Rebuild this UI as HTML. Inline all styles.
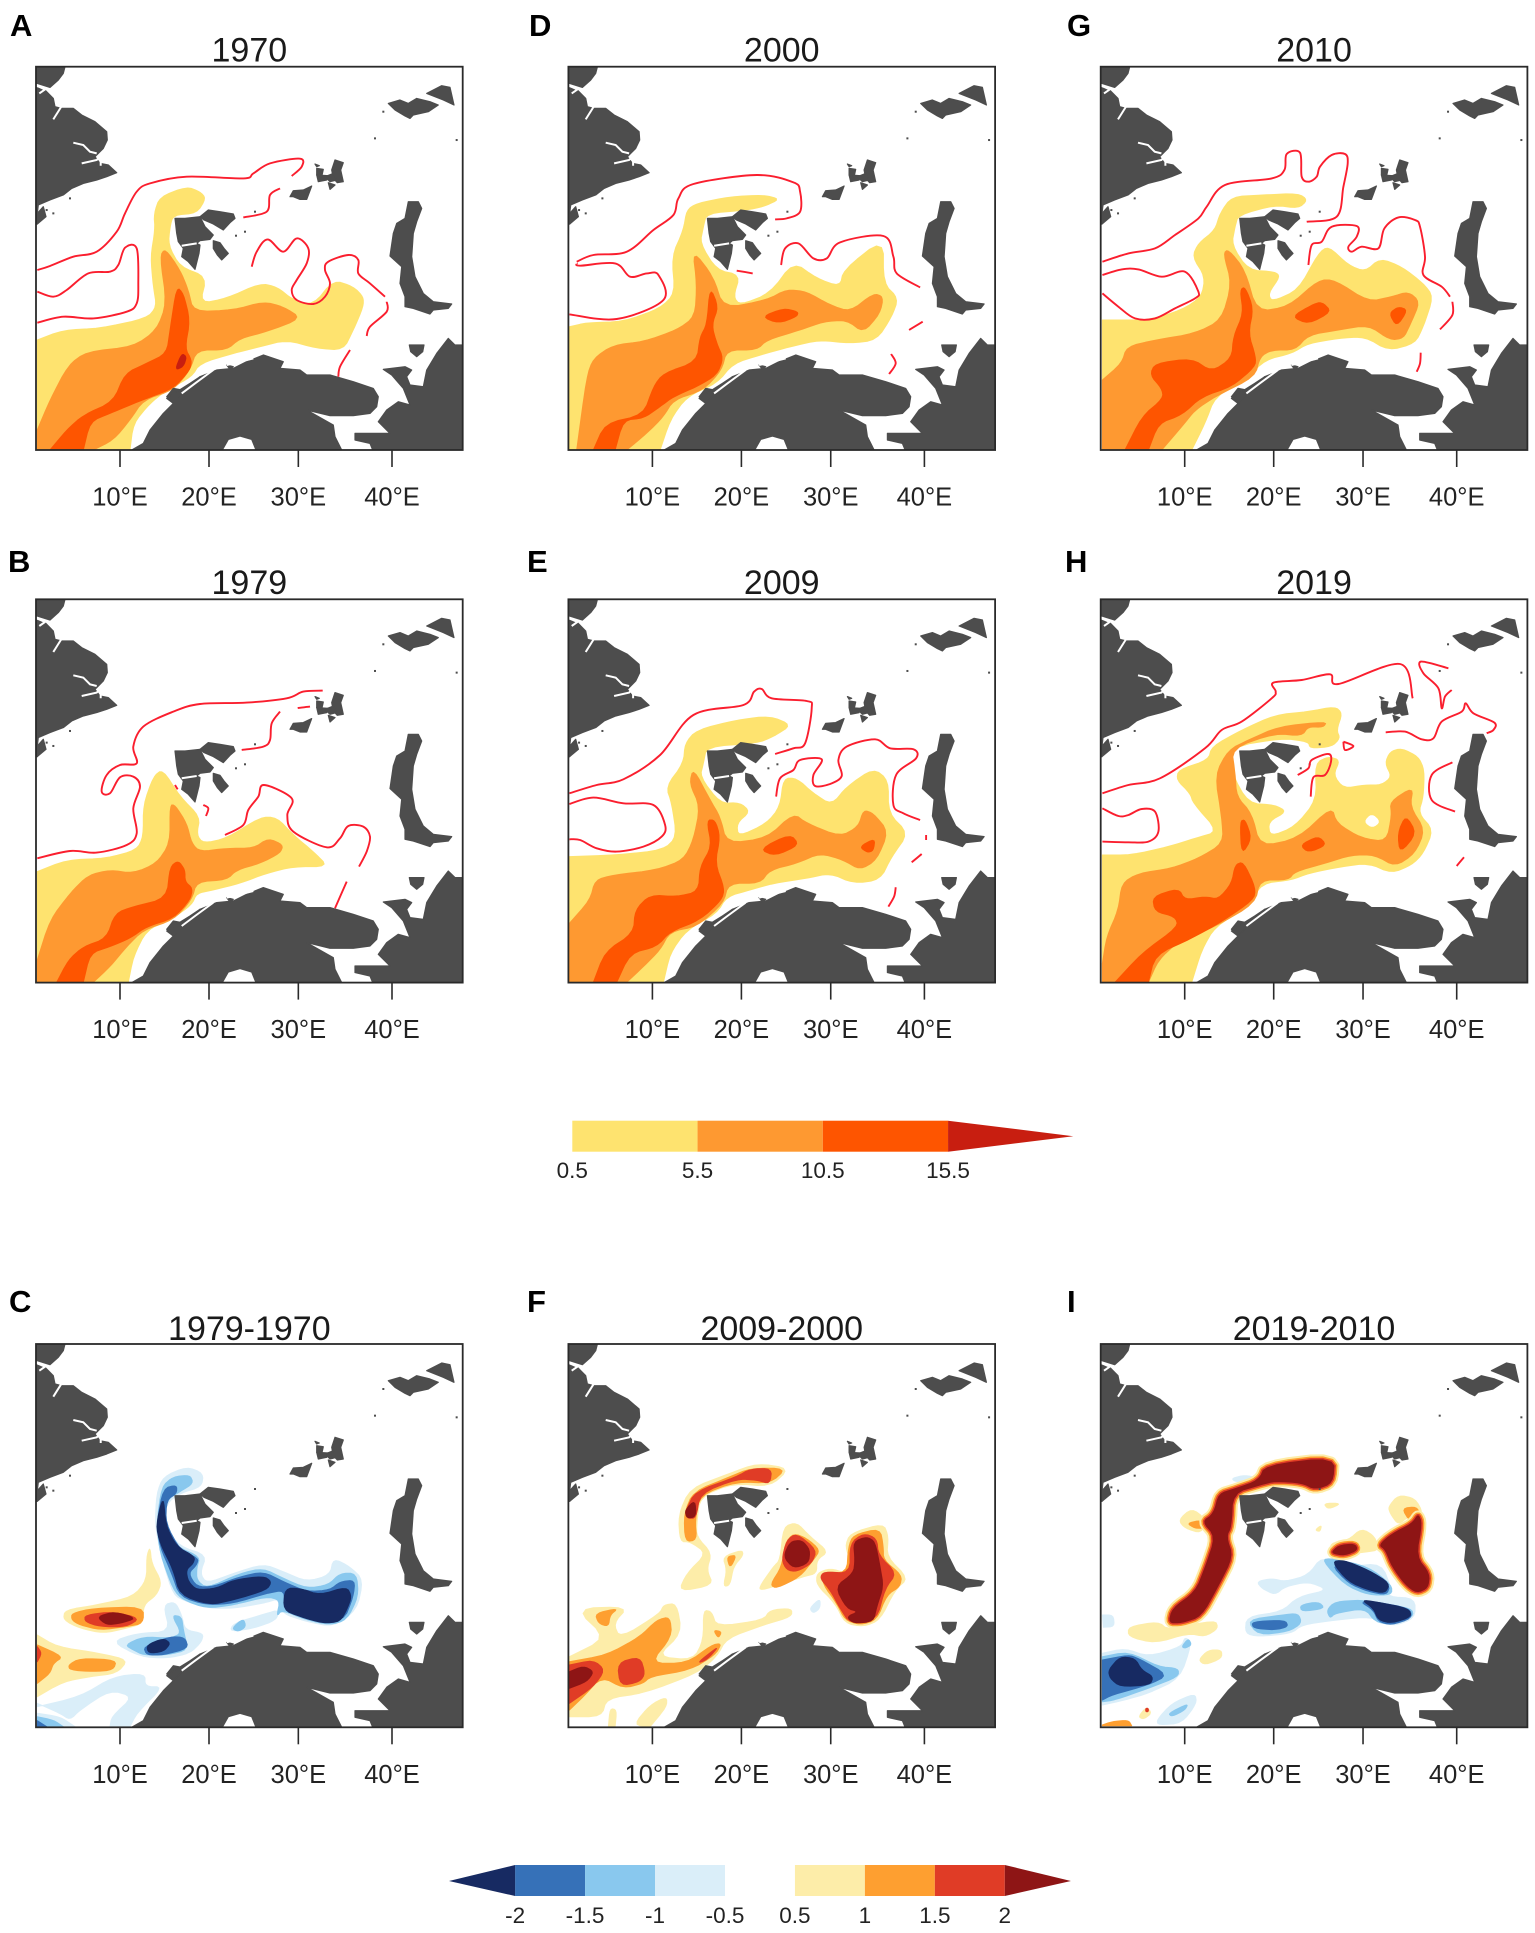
<!DOCTYPE html>
<html lang="en">
<head>
<meta charset="utf-8">
<title>Contour map panels 1970-2019</title>
<style>
html,body{margin:0;padding:0;background:#fff}
svg{display:block;filter:blur(0.35px)}
text{font-family:"Liberation Sans",Arial,sans-serif}
</style>
</head>
<body>
<svg id="fig" xmlns="http://www.w3.org/2000/svg" width="1535" height="1933" viewBox="0 0 1535 1933"></svg>
<script>
/* ---- map plane units: x 0-1280, y 0-1150 with per-panel origin ---- */
const lonTicks=[10,20,30,40];
const lonTickLabels=["10°E","20°E","30°E","40°E"];
const lonProjected=[252,519,787,1068];

const seqLevels=[0.5,5.5,10.5,15.5];
const seqLabels=["0.5","5.5","10.5","15.5"];
const seqOverflow=20.5;
const divLevels=[-2,-1.5,-1,-0.5,0.5,1,1.5,2];
const divLabels=["-2","-1.5","-1","-0.5","0.5","1","1.5","2"];

/* land mask (origin 108,200) */
const landA=[108,200,195,200,190,220,175,240,150,262,112,250,108,250];
const landB=[108,262,135,270,160,295,165,320,185,325,220,325,245,345,285,365,320,395,322,420,310,445,300,455,285,470,300,490,325,495,350,518,320,530,290,540,250,550,215,565,190,585,150,600,115,615,112,640,130,620,138,650,112,672,108,672];
const landC=[525,655,555,655,600,650,615,680,640,705,630,718,600,722,590,730,600,735,597,760,585,808,565,785,545,770,550,745,535,725,530,700];
const landE=[600,650,625,630,660,635,700,642,705,655,690,668,670,690,640,672,612,660];
const landF=[640,722,660,728,672,745,685,760,665,780,652,765,640,745];
const landG=[870,590,880,572,910,570,935,558,920,598,900,598,880,590];
const landH=[1005,480,1030,488,1022,510,1030,545,1012,548,1000,535,995,510];
const landI=[950,525,985,527,980,540,955,545];
const landJ=[985,548,1005,555,990,568];
const landK=[945,492,958,497,950,500];
const landL=[950,505,970,508,965,530,950,525];
const landW=[975,530,1000,520,1010,540,990,545];
const landM=[1165,310,1200,300,1225,310,1250,295,1290,305,1315,315,1285,335,1240,345,1230,355,1215,348,1185,330];
const landN=[1280,280,1325,257,1350,262,1362,315,1330,300];
const landO=[1225,605,1255,605,1265,625,1250,665,1240,700,1235,770,1245,830,1270,880,1300,905,1355,912,1345,925,1300,930,1290,942,1240,925,1215,920,1215,890,1200,850,1205,800,1170,768,1180,700,1190,670,1215,655];
const landP=[1228,1035,1272,1035,1268,1055,1250,1070,1232,1055];
const landQ=[395,1350,430,1330,450,1290,490,1240,520,1210,570,1160,600,1130,650,1110,700,1105,740,1085,790,1065,850,1085,840,1105,900,1110,920,1125,990,1125,1060,1145,1120,1165,1135,1190,1130,1220,1110,1240,1060,1247,990,1247,920,1230,1000,1275,1005,1310,1025,1350,768,1350,755,1318,720,1308,685,1318,667,1350];
const landR=[1065,1300,1110,1300,1170,1300,1135,1265,1160,1230,1195,1205,1230,1215,1210,1165,1175,1125,1150,1108,1215,1100,1235,1110,1220,1130,1230,1155,1270,1160,1280,1110,1310,1060,1345,1015,1365,1035,1388,1035,1388,1350,1118,1350,1110,1330,1065,1320];
const landS=[500,1190,520,1165,545,1170,535,1185,510,1195];
const landT=[680,1095,700,1100,690,1108];
const landU=[112,672,108,672,108,620,112,620];
const landV=[520,1210,500,1195,530,1175,570,1150,600,1130,570,1160];
const landParts=[landA,landB,landC,landE,landF,landG,landH,landI,landJ,landK,landL,landW,landM,landN,landO,landP,landQ,landR,landS,landT,landU,landV];
const inletA=[220,428,250,435,270,455,290,460];
const inletB=[245,490,290,480,300,470];
const inletC=[302,470,302,497];
const inletD=[160,358,185,318];
const inletE=[112,258,135,268,118,280];
const inletF=[545,1180,585,1150,640,1110];
const inletG=[680,1095,760,1075];
const inletH=[545,737,590,730];
const inletParts=[inletA,inletB,inletC,inletD,inletE,inletF,inletG,inletH];
const landDots=[1125,415,1370,420,1150,335,735,695,708,707,210,595,140,630,160,640,765,635];

/* 1970 (A) */
const low1970=[112,1020,190,990,300,985,440,955,470,920,460,860,452,770,465,690,462,640,480,590,560,560,600,575,618,595,590,640,520,645,510,680,505,735,540,800,620,830,600,910,680,895,780,850,830,860,880,900,940,915,1000,840,1060,860,1090,890,1090,920,1060,990,1030,1050,950,1045,860,1020,780,1040,700,1060,600,1090,575,1130,500,1170,450,1210,400,1270,390,1350,112,1350];
const mid1970=[112,1290,150,1200,205,1095,260,1055,400,1040,470,990,500,910,480,770,495,745,540,810,565,870,580,935,700,930,790,905,850,920,905,955,800,995,720,1015,680,1050,590,1050,570,1110,520,1170,430,1200,390,1260,340,1320,280,1350,112,1350];
const high1970=[150,1350,200,1290,250,1245,340,1205,375,1120,440,1090,500,1060,510,990,530,860,550,880,570,960,555,1045,575,1080,570,1110,520,1165,440,1195,390,1215,330,1240,270,1265,250,1350];
const top1970=[525,1110,545,1060,560,1070,550,1100];
const edge1970a=[112,810,150,798,220,770,290,755,350,695,375,640,410,575,450,550,560,530,730,535,760,520,810,490,900,476,905,500,875,528];
const edge1970b=[112,875,160,890,200,870,265,820,330,815,355,795,375,743,410,745,415,850,410,910,380,935,280,955,190,950,112,968];
const edge1970c=[840,565,810,585,800,635,730,652];
const edge1970d=[755,800,770,755,803,718,850,755,890,715,925,745,920,790,890,840,875,870,890,900,940,912,975,890,990,850,975,810,985,785,1045,765,1075,780,1075,820,1110,850,1155,890];
const edge1970e=[1160,905,1160,935,1110,980,1100,1008];
const edge1970f=[1050,1050,1020,1100,1015,1130];

/* 2000 (D) */
const low2000=[118,980,170,968,280,965,390,925,435,880,425,770,460,690,470,630,500,610,600,590,700,585,750,597,700,620,650,630,530,640,520,680,510,730,560,810,630,825,610,890,630,915,720,880,790,785,860,835,930,860,940,810,1060,715,1060,850,1105,895,1085,950,1040,1020,960,1030,870,1020,780,1040,690,1065,610,1090,560,1150,470,1190,420,1260,390,1350,118,1350];
const mid2000=[140,1350,170,1130,190,1075,250,1035,340,1025,440,990,495,950,500,850,488,750,550,830,580,925,710,900,770,868,830,875,900,915,960,935,1030,880,1060,890,1050,940,1000,998,950,960,880,965,810,990,710,1020,680,1050,590,1050,575,1110,520,1170,430,1200,400,1250,350,1300,290,1350];
const high2000=[190,1350,225,1270,340,1245,370,1160,400,1120,500,1085,510,1010,530,975,540,860,565,920,545,975,560,1030,580,1075,560,1125,500,1160,430,1190,390,1220,340,1255,280,1260,255,1350];
const spot2000=[695,950,760,925,805,935,800,950,745,970];
const edge2000a=[140,785,190,765,290,755,370,690,430,645,445,595,490,552,680,525,790,547,810,575,810,635,770,655,735,658];
const edge2000b=[118,943,260,957,400,900,385,825,350,820,300,830,255,790,150,797,140,790];
const edge2000c=[620,812,668,820];
const edge2000d=[753,795,765,745,805,730,850,775,890,775,930,727,1060,708,1090,770,1100,820,1170,862];
const edge2000e=[1137,990,1178,965];
const edge2000f=[1083,1062,1097,1090,1077,1122];

/* 2010 (G) */
const low2010=[262,960,320,960,400,960,500,930,560,890,570,830,532,770,550,730,600,690,615,640,650,590,740,585,850,580,878,600,850,625,780,615,670,645,660,680,650,735,700,810,780,815,795,830,760,880,770,905,850,870,910,760,940,738,1000,795,1050,815,1095,775,1160,800,1225,850,1255,890,1225,980,1200,1030,1120,1052,1050,1010,970,1015,880,1030,830,1060,750,1080,700,1130,600,1190,570,1270,530,1350,262,1350];
const mid2010=[262,1140,320,1090,335,1040,420,1020,540,1000,620,960,650,850,625,760,640,748,690,810,725,935,820,920,910,840,960,840,1060,905,1130,890,1180,875,1215,905,1185,975,1165,1015,1125,1020,1060,975,970,990,880,1005,840,1050,770,1050,735,1070,720,1130,600,1190,540,1230,500,1280,440,1350,262,1350];
const high2010=[330,1350,380,1250,445,1195,440,1165,405,1125,420,1090,530,1075,590,1115,650,1075,655,1010,685,940,675,870,690,860,715,925,700,1000,722,1070,720,1100,650,1160,560,1190,500,1245,430,1270,400,1350];
const spot2010a=[830,950,890,915,920,905,950,935,880,972];
const spot2010b=[1122,940,1150,920,1178,930,1145,980];
const edge2010a=[262,785,340,760,420,745,480,705,550,655,575,620,630,555,770,535,808,510,815,462,855,458,860,530,880,545,905,530,915,500,950,465,990,462,998,490,985,560,965,650,875,665];
const edge2010b=[262,825,320,808,370,808,440,830,510,815,550,875,540,895,480,925,420,955,360,955,310,920,262,880];
const edge2010c=[880,795,890,735,920,725,950,680,1025,678,1025,710,1000,740,1010,755,1040,740,1090,745,1108,685,1150,652,1200,660,1215,680,1230,770,1225,825,1280,860,1305,890];
const edge2010d=[1312,905,1312,945,1275,988];
const edge2010e=[1217,1058,1215,1090,1205,1115];

/* 1979 (B) */
const low1979=[112,1025,200,990,320,985,410,960,430,920,430,825,460,740,488,718,540,800,600,860,590,915,610,940,680,925,780,862,830,862,880,915,940,965,985,1010,880,1010,800,1030,720,1060,640,1080,590,1090,575,1125,510,1170,440,1200,400,1280,385,1357,112,1357];
const mid1979=[112,1290,150,1170,210,1090,265,1035,330,1020,400,1030,470,1000,510,940,510,825,525,825,560,880,575,940,600,965,680,955,760,955,805,925,850,945,840,970,780,1000,710,1020,680,1050,590,1055,575,1110,520,1170,430,1200,380,1250,330,1310,280,1357,112,1357];
const high1979=[170,1357,205,1290,250,1250,320,1225,345,1150,400,1130,500,1105,510,1010,535,992,555,1020,555,1055,578,1075,570,1110,520,1165,440,1190,390,1225,330,1250,270,1270,250,1357];
const edge1979a=[112,985,210,963,290,968,380,945,410,910,400,835,420,770,400,740,360,742,330,790,305,785,320,735,360,705,410,700,400,650,430,590,520,545,600,522,740,518,860,505,910,485,968,482];
const edge1979b=[893,534,930,530];
const edge1979c=[840,545,815,580,810,630,790,650,725,660];
const edge1979d=[610,825,625,835,618,858];
const edge1979e=[525,765,533,778];
const edge1979f=[675,915,730,885,745,840,775,800,792,765,875,805,862,855,880,905,980,952,1020,925,1045,888,1090,890,1110,920,1100,965,1077,1010];
const edge1979g=[1040,1055,1005,1135];

/* 2009 (E) */
const low2009=[118,980,260,975,400,960,440,920,425,820,408,770,460,700,465,640,500,600,620,570,720,558,785,585,730,620,680,640,530,650,520,700,510,740,570,820,630,818,660,845,620,880,625,920,710,880,750,830,760,745,800,745,850,790,905,825,950,770,1030,715,1075,750,1075,850,1135,910,1085,980,1050,1050,970,1060,900,1030,830,1045,730,1060,660,1080,590,1100,560,1150,470,1200,420,1270,400,1357,118,1357];
const mid2009=[118,1180,180,1110,195,1050,250,1035,380,1020,460,990,490,930,510,830,478,760,490,715,540,810,570,860,590,940,710,925,790,850,830,880,930,920,985,890,1000,840,1030,850,1075,905,1040,990,990,1020,940,990,870,970,800,1000,720,1020,690,1060,595,1060,580,1120,500,1190,420,1205,390,1260,340,1310,290,1357,118,1357];
const high2009=[190,1357,225,1265,310,1210,315,1140,360,1095,440,1100,505,1085,510,1010,545,950,530,870,555,870,570,920,555,1000,583,1075,575,1110,510,1170,420,1205,380,1250,300,1270,260,1357];
const spot2009a=[688,958,780,912,808,945,735,978];
const spot2009b=[988,950,1035,925,1030,962,1012,968];
const edge2009a=[118,790,200,765,280,748,390,675,490,555,640,525,672,485,695,477,725,505,830,513,845,535,825,640,790,655,735,672];
const edge2009b=[118,822,190,803,280,820,370,825,405,885,395,920,340,950,260,965,200,955,150,930,118,928];
const edge2009c=[738,800,750,745,790,720,810,690,875,688,850,735,855,768,900,762,935,738,925,690,950,650,1035,628,1080,655,1150,658,1158,685,1098,735,1090,825,1120,850,1170,870];
const edge2009d=[1188,915,1188,930];
const edge2009e=[1145,997,1175,972];
const edge2009f=[1097,1072,1092,1100,1075,1130];

/* 2019 (H) */
const low2019=[262,975,350,975,460,950,540,925,610,905,535,820,525,790,485,750,490,720,580,690,590,650,680,600,780,555,880,545,960,530,982,550,965,600,975,625,950,650,885,655,880,635,800,625,650,650,650,730,700,820,780,825,815,845,760,875,765,920,840,890,905,810,900,700,940,680,975,690,955,735,985,775,1050,765,1100,765,1130,740,1110,700,1125,665,1160,655,1210,680,1228,720,1225,800,1210,850,1255,900,1225,970,1190,1005,1130,1030,1060,1000,980,1010,880,1030,830,1050,740,1060,700,1130,600,1190,560,1260,530,1357,262,1357];
const hole2019=[1048,875,1070,852,1095,875,1072,893];
const mid2019=[262,1300,275,1220,310,1140,320,1060,370,1030,470,1015,550,985,625,940,620,860,600,735,640,660,700,630,790,590,935,575,925,592,880,590,860,618,780,610,650,655,660,730,665,800,710,850,735,950,850,925,950,830,965,880,1040,925,1115,935,1130,855,1125,815,1195,770,1185,830,1230,900,1200,970,1140,1010,1080,975,1010,975,930,1000,840,1025,820,1050,735,1050,720,1120,600,1190,490,1235,430,1290,400,1357,262,1357];
const high2019=[300,1357,380,1270,490,1190,480,1160,420,1145,412,1100,490,1075,510,1110,570,1100,610,1108,650,1060,660,1005,685,995,722,1075,715,1110,620,1175,530,1225,420,1275,400,1357];
const spot2019a=[675,875,690,868,710,925,680,975];
const spot2019b=[855,945,910,918,935,945,880,968];
const spot2019c=[1148,910,1172,855,1205,910,1155,970];
const edge2019a=[262,790,340,765,435,745,570,655,620,600,680,575,770,505,782,485,775,458,860,450,945,433,970,462,1155,402,1193,505];
const edge2019b=[1300,415,1218,395,1225,430,1270,475,1280,535,1290,500,1310,480];
const edge2019c=[1112,607,1170,605,1220,628,1255,625,1280,575,1340,545,1352,520,1375,550,1438,578,1435,600,1415,610];
const edge2019d=[1312,697,1250,735,1250,810,1320,845];
const edge2019e=[262,835,310,858,340,855,380,837,420,845,430,905,400,935,340,937,262,935];
const edge2019f=[985,635,1015,648,990,660,985,635];
const edge2019g=[848,735,880,715,890,690,940,672,948,695,930,735,895,742,887,800];
const edge2019h=[1325,1008,1347,982];

/* 1979-1970 (C) */
const diffC_p1=[450,800,455,850,485,905,470,945,430,975,430,1030,380,1045,310,1060,240,1045,190,1020,195,990,290,975,400,950,440,900,440,830];
const diffC_p2=[112,1065,170,1100,300,1120,385,1140,350,1180,270,1190,190,1205,112,1250];
const diffC_o1=[215,1000,280,985,430,980,430,1030,380,1040,300,1050,240,1035,215,1020];
const diffC_r1=[255,1005,340,995,420,1015,380,1040,300,1040,255,1025];
const diffC_d1=[290,1010,345,995,410,1015,360,1030,320,1035];
const diffC_o2=[112,1095,190,1130,160,1150,150,1180,112,1210];
const diffC_o3=[205,1155,240,1135,350,1140,340,1170,280,1175,210,1170];
const diffC_r2=[112,1100,125,1120,112,1145];
const diffC_b1=[465,740,470,640,490,590,560,560,610,580,605,620,540,640,500,670,490,735,540,800,620,825,600,880,620,910,700,880,790,852,850,875,920,905,990,885,1000,835,1050,860,1090,900,1070,990,1000,1040,920,1025,845,1000,840,955,790,970,700,985,630,985,560,965,520,945,490,850];
const diffC_b2=[830,1020,835,990,800,1000,700,1030,690,1055,760,1045];
const diffC_b3=[335,1085,410,1060,510,1055,490,975,525,965,545,1005,555,1050,610,1060,605,1085,570,1120,500,1135,420,1130];
const diffC_b4=[112,1300,180,1310,225,1340,112,1340];
const diffC_b5=[112,1280,240,1250,340,1190,435,1180,435,1220,490,1220,410,1300,390,1340,330,1340,335,1310,400,1250,330,1230,240,1290,210,1320,180,1300,112,1270];
const diffC_m1=[470,730,485,620,520,590,570,585,580,610,540,635,500,660,490,730,530,800,600,830,590,865,590,900,620,925,720,880,790,865,850,895,920,925,985,915,1020,880,1070,880,1075,950,1040,1020,990,1035,920,1020,845,990,830,1010,840,960,800,950,700,975,620,985,550,960,520,930,480,820];
const diffC_m2=[375,1095,430,1070,510,1075,545,1060,515,1005,545,1010,550,1050,565,1110,500,1125,430,1125,400,1110];
const diffC_m3=[695,1045,730,1015,738,1040,715,1055];
const diffC_m4=[112,1310,160,1320,190,1340,112,1340];
const diffC_s1=[470,730,490,625,530,615,530,640,500,660,497,730,540,810,595,835,590,855,565,880,590,920,640,920,720,890,790,875,850,905,920,935,990,930,1020,905,1065,900,1060,950,1030,1025,930,1015,850,990,855,930,800,940,700,970,620,975,540,950,515,880,480,800];
const diffC_s2=[430,1100,510,1070,555,1072,565,1105,490,1125,440,1125];
const diffC_s3=[112,1322,140,1340,112,1340];
const diffC_n1=[468,735,490,645,497,735,530,800,585,830,580,850,558,870,565,905,590,930,650,925,700,900,790,888,815,905,800,930,700,960,630,975,540,945,520,870,480,790];
const diffC_n2=[855,925,900,925,960,945,1040,920,1055,950,1040,990,1020,1025,970,1030,900,1010,850,990];
const diffC_n3=[440,1095,490,1075,512,1090,490,1115,445,1120];

/* 2009-2000 (F) */
const diffF_p1=[445,705,480,625,600,580,680,550,780,565,720,620,610,610,510,650,500,730,500,770,545,820,530,870,550,915,445,935,470,880,530,820,480,785,450,785];
const diffF_p2=[578,830,635,810,640,825,610,860,600,915,580,920,590,870];
const diffF_p3=[760,740,800,727,840,770,895,815,860,840,860,880,820,890,700,930,685,925,730,860,750,840];
const diffF_p4=[945,800,960,760,1060,730,1075,770,1070,830,1135,895,1095,930,1050,1020,1000,1040,945,1030,915,970,860,915,860,880,900,865,950,880,965,850];
const diffF_p5=[118,1310,118,1130,230,1075,135,985,295,980,250,1030,270,1075,390,1000,400,975,440,970,455,1060,380,1130,490,1140,520,1080,520,990,545,995,560,1040,700,1020,720,990,785,985,785,1010,700,1035,590,1075,560,1130,500,1180,340,1240,230,1255,215,1310];
const diffF_p6=[310,1335,360,1275,410,1250,410,1280,360,1340];
const diffF_p7=[235,1340,240,1285,260,1290,255,1340];
const diffF_o1=[462,700,490,635,600,590,660,565,770,565,720,610,620,605,510,645,495,720,500,780,465,785];
const diffF_o2=[590,830,620,825,600,865];
const diffF_o3=[720,915,755,860,765,790,790,760,830,775,870,810,850,840,810,890,740,925];
const diffF_o4=[955,800,970,765,1050,745,1060,800,1060,840,1115,885,1110,920,1070,945,1040,1020,990,1035,945,1020,920,970,880,915,875,875,950,880];
const diffF_o5=[118,1145,230,1125,330,1070,380,1020,420,1010,425,1070,360,1150,470,1150,545,1095,575,1090,555,1125,480,1170,360,1190,340,1210,280,1225,215,1190,160,1250,118,1290];
const diffF_o6=[195,1000,265,985,240,1005,235,1040,205,1030];
const diffF_o7=[550,1050,575,1055,565,1075];
const diffF_r1=[468,690,495,635,620,590,660,567,725,565,720,612,680,600,620,597,510,640,498,715,470,715];
const diffF_r2=[755,840,770,780,800,760,860,810,845,850,800,875,770,870];
const diffF_r3=[960,790,1000,760,1040,775,1045,825,1100,880,1065,925,1040,1020,960,1030,930,985,900,930,870,895,880,875,960,880];
const diffF_r4=[118,1155,190,1140,225,1170,190,1220,118,1270];
const diffF_r5=[262,1148,330,1130,345,1180,330,1205,270,1218];
const diffF_r6=[500,1150,570,1095,530,1140];
const diffF_d1=[465,690,495,660,498,710,470,715];
const diffF_d2=[760,830,780,785,815,780,840,810,835,850,790,865];
const diffF_d3=[970,785,1010,770,1035,785,1050,860,1060,920,1040,980,1030,1025,970,1030,950,1010,985,995,950,985,915,920,970,880,975,840];
const diffF_d4=[118,1175,160,1158,192,1175,170,1205,118,1225];
const diffF_b1=[838,985,870,955,870,985,850,1000];

/* 2019-2010 (I) */
const diffI_d1=[460,1030,470,985,540,935,570,860,600,770,560,725,595,700,610,640,660,625,730,600,750,555,960,530,955,610,900,630,860,610,780,605,740,615,655,640,650,740,635,770,655,830,610,920,560,1010,500,1030];
const diffI_d2=[1090,795,1130,760,1190,730,1210,700,1222,730,1205,830,1245,880,1240,925,1205,940,1170,915,1130,860,1110,810];
const diffI_d3=[945,820,970,795,1020,790,1030,810,990,828];
const diffI_p1=[490,720,530,685,570,715,560,760,510,745];
const diffI_p2=[340,1040,430,1025,460,1050,600,1020,610,1045,570,1070,520,1060,420,1090,340,1070];
const diffI_p3=[925,670,980,670,940,688];
const diffI_p4=[900,750,920,735,915,755];
const diffI_p5=[1120,680,1150,645,1200,655,1225,700,1180,710,1150,735,1125,700];
const diffI_p6=[945,790,1000,780,1040,745,1080,770,1090,810,1060,815,1020,820,950,820];
const diffI_p7=[550,1140,580,1110,620,1110,620,1135,570,1155];
const diffI_p8=[370,1310,395,1280,410,1300,385,1318];
const diffI_o1=[515,730,560,720,570,745,540,745];
const diffI_o2=[1160,685,1205,680,1215,705,1185,725];
const diffI_o3=[262,1335,290,1325,340,1320,350,1337,262,1337];
const diffI_r1=[392,1285,400,1285,400,1295,392,1295];
const diffI_b1=[725,905,770,895,810,905,880,885,920,830,1000,860,1100,850,1130,930,1120,950,1200,955,1200,1015,1130,1040,1070,1010,960,1020,860,1035,830,1060,730,1070,690,1060,695,1010,800,995,850,950,940,930,880,905,810,920,780,945,740,925];
const diffI_b2=[650,595,690,585,730,595,700,605,660,605];
const diffI_b3=[262,1120,330,1105,400,1130,500,1100,510,1070,530,1090,495,1195,400,1240,330,1260,262,1275];
const diffI_b4=[425,1320,470,1270,540,1240,545,1270,500,1330,430,1335];
const diffI_b5=[262,1005,295,1005,298,1040,265,1042];
const diffI_m1=[855,975,910,965,930,985,860,995];
const diffI_m2=[935,990,960,965,1040,960,1090,970,1190,985,1195,1010,1130,1035,1080,1025,1050,985,960,1000,945,1015];
const diffI_m3=[920,840,950,835,1060,860,1130,915,1130,945,1060,945,990,915];
const diffI_m4=[695,1020,800,1005,850,1000,860,1030,820,1055,730,1065];
const diffI_m5=[262,1130,340,1115,430,1160,490,1165,490,1190,400,1225,300,1260,262,1265];
const diffI_m6=[460,1300,520,1270,510,1290,470,1310];
const diffI_m7=[500,1100,520,1075,530,1095,510,1105];
const diffI_s1=[710,1025,810,1020,820,1040,780,1050,715,1045];
const diffI_s2=[262,1140,340,1125,370,1135,460,1185,400,1215,290,1245,262,1260];
const diffI_s3=[945,850,1050,870,1125,915,1115,945,1060,935,1000,910];
const diffI_s4=[1035,965,1080,965,1185,985,1190,1015,1130,1035,1090,1025,1075,990];
const diffI_n1=[950,845,985,840,1060,870,1125,910,1110,940,1060,930,1000,905];
const diffI_n2=[1040,960,1080,965,1180,985,1190,1010,1130,1030,1090,1020,1075,985];
const diffI_n3=[280,1170,315,1130,360,1135,380,1170,415,1190,405,1215,315,1220,285,1195];

const palette={low:"#FEE36F",mid:"#FE9931",high:"#FE5500",top:"#C81E10",white:"#FFFFFF",
 p:"#FDEDA9",o:"#FE9F30",r:"#E03C26",d:"#8E1515",b:"#DAEEF9",m:"#89C8EE",s:"#3671B8",n:"#172A62"};

/* layout */
const columnLeft=[36,568.4,1100.7];
const rowTop=[66.7,599.3,1344];
const frameW=426.7, frameH=383.3, unit=1/3;
const columnOrigin=[108,115,257];
const rowOrigin=[200,208,192];

const panels=[
 {letter:"A",title:"1970",c:0,r:0,lx:10,ly:36,fills:[["low",low1970],["mid",mid1970],["high",high1970],["top",top1970]],edges:[edge1970a,edge1970b,edge1970c,edge1970d,edge1970e,edge1970f]},
 {letter:"B",title:"1979",c:0,r:1,lx:8,ly:572,fills:[["low",low1979],["mid",mid1979],["high",high1979]],edges:[edge1979a,edge1979b,edge1979c,edge1979d,edge1979e,edge1979f,edge1979g]},
 {letter:"C",title:"1979-1970",c:0,r:2,lx:9,ly:1312,fills:[["p",diffC_p1],["p",diffC_p2],["o",diffC_o1],["r",diffC_r1],["d",diffC_d1],["o",diffC_o2],["o",diffC_o3],["r",diffC_r2],["b",diffC_b1],["b",diffC_b2],["b",diffC_b3],["b",diffC_b5],["b",diffC_b4],["m",diffC_m1],["m",diffC_m2],["m",diffC_m3],["m",diffC_m4],["s",diffC_s1],["s",diffC_s2],["s",diffC_s3],["n",diffC_n1],["n",diffC_n2],["n",diffC_n3]],edges:[]},
 {letter:"D",title:"2000",c:1,r:0,lx:529,ly:36,fills:[["low",low2000],["mid",mid2000],["high",high2000],["high",spot2000]],edges:[edge2000a,edge2000b,edge2000c,edge2000d,edge2000e,edge2000f]},
 {letter:"E",title:"2009",c:1,r:1,lx:527,ly:572,fills:[["low",low2009],["mid",mid2009],["high",high2009],["high",spot2009a],["high",spot2009b]],edges:[edge2009a,edge2009b,edge2009c,edge2009d,edge2009e,edge2009f]},
 {letter:"F",title:"2009-2000",c:1,r:2,lx:527,ly:1312,fills:[["p",diffF_p5],["p",diffF_p6],["p",diffF_p7],["p",diffF_p1],["p",diffF_p2],["p",diffF_p3],["p",diffF_p4],["o",diffF_o1],["o",diffF_o2],["o",diffF_o3],["o",diffF_o4],["o",diffF_o5],["o",diffF_o6],["o",diffF_o7],["r",diffF_r1],["r",diffF_r2],["r",diffF_r3],["r",diffF_r4],["r",diffF_r5],["r",diffF_r6],["d",diffF_d1],["d",diffF_d2],["d",diffF_d3],["d",diffF_d4],["b",diffF_b1]],edges:[]},
 {letter:"G",title:"2010",c:2,r:0,lx:1067,ly:36,fills:[["low",low2010],["mid",mid2010],["high",high2010],["high",spot2010a],["high",spot2010b]],edges:[edge2010a,edge2010b,edge2010c,edge2010d,edge2010e]},
 {letter:"H",title:"2019",c:2,r:1,lx:1065,ly:572,fills:[["low",low2019],["white",hole2019],["mid",mid2019],["high",high2019],["high",spot2019a],["high",spot2019b],["high",spot2019c]],edges:[edge2019a,edge2019b,edge2019c,edge2019d,edge2019e,edge2019f,edge2019g,edge2019h]},
 {letter:"I",title:"2019-2010",c:2,r:2,lx:1067,ly:1312,fills:[["p",diffI_p1],["p",diffI_p2],["p",diffI_p3],["p",diffI_p4],["p",diffI_p5],["p",diffI_p6],["p",diffI_p7],["p",diffI_p8],["o",diffI_o1],["o",diffI_o2],["o",diffI_o3],["r",diffI_r1],["b",diffI_b1],["b",diffI_b2],["b",diffI_b3],["b",diffI_b4],["b",diffI_b5],["m",diffI_m1],["m",diffI_m2],["m",diffI_m3],["m",diffI_m4],["m",diffI_m5],["m",diffI_m6],["m",diffI_m7],["s",diffI_s1],["s",diffI_s2],["s",diffI_s3],["s",diffI_s4],["n",diffI_n1],["n",diffI_n2],["n",diffI_n3],["o",diffI_d1,"rim"],["o",diffI_d2,"rim"],["o",diffI_d3,"rim"]],edges:[]}
];

const NS="http://www.w3.org/2000/svg";
const fig=document.getElementById("fig");
function make(tag,parent){const e=document.createElementNS(NS,tag);parent.appendChild(e);return e;}

function lonToPlane(lon){
  for(let i=0;i<lonTicks.length-1;i++){
    if(lon<=lonTicks[i+1]||i===lonTicks.length-2){
      const t=(lon-lonTicks[i])/(lonTicks[i+1]-lonTicks[i]);
      return lonProjected[i]+t*(lonProjected[i+1]-lonProjected[i]);
    }
  }
}
function seqScale(v){return 572.3+(v-seqLevels[0])*25.05;}
function divScale(i){return 515.1+i*69.96;}

function pathFrom(arr,sx,sy,closed){
  let d="";
  for(let i=0;i<arr.length;i+=2){
    d+=(i?"L":"M")+sx(arr[i]).toFixed(1)+" "+sy(arr[i+1]).toFixed(1);
  }
  return d+(closed?"Z":"");
}
/* corner-cut a closed contour twice so it reads as a smooth contour; frame-edge vertices stay sharp */
function rounded(arr,ox,oy){
  let pts=[];
  for(let i=0;i<arr.length;i+=2)pts.push([arr[i],arr[i+1]]);
  for(let pass=0;pass<2;pass++){
    const out=[];
    pts.forEach(function(p,i){
      if(p[0]<=ox+8||p[1]>=oy+1145){out.push(p);return;}
      const a=pts[(i-1+pts.length)%pts.length], b=pts[(i+1)%pts.length];
      out.push([p[0]+(a[0]-p[0])*0.22,p[1]+(a[1]-p[1])*0.22]);
      out.push([p[0]+(b[0]-p[0])*0.22,p[1]+(b[1]-p[1])*0.22]);
    });
    pts=out;
  }
  const flat=[];
  pts.forEach(function(p){flat.push(p[0],p[1]);});
  return flat;
}
/* Catmull-Rom smoothing for contour lines */
function smoothLine(arr,sx,sy){
  const pts=[];
  for(let i=0;i<arr.length;i+=2)pts.push([sx(arr[i]),sy(arr[i+1])]);
  let d="M"+pts[0][0].toFixed(1)+" "+pts[0][1].toFixed(1);
  for(let i=0;i<pts.length-1;i++){
    const a=pts[Math.max(i-1,0)],b=pts[i],c=pts[i+1],e=pts[Math.min(i+2,pts.length-1)];
    d+="C"+(b[0]+(c[0]-a[0])/6).toFixed(1)+" "+(b[1]+(c[1]-a[1])/6).toFixed(1)+" "+
      (c[0]-(e[0]-b[0])/6).toFixed(1)+" "+(c[1]-(e[1]-b[1])/6).toFixed(1)+" "+
      c[0].toFixed(1)+" "+c[1].toFixed(1);
  }
  return d;
}

const defs=make("defs",fig);

panels.forEach(function(p,pi){
  const left=columnLeft[p.c], top=rowTop[p.r];
  const ox=columnOrigin[p.c], oy=rowOrigin[p.r];
  const sx=function(u){return left+(u-ox)*unit;};
  const sy=function(v){return top+(v-oy)*unit;};
  const lsx=function(u){return left+(u-108)*unit;};
  const lsy=function(v){return top+(v-200)*unit;};

  const clip=make("clipPath",defs);
  clip.setAttribute("id","clip"+pi);
  const cr=make("rect",clip);
  cr.setAttribute("x",left);cr.setAttribute("y",top);cr.setAttribute("width",frameW);cr.setAttribute("height",frameH);

  const g=make("g",fig);
  
  

  const letter=make("text",g);
  
  
  letter.setAttribute("x",p.lx);letter.setAttribute("y",p.ly);
  letter.setAttribute("font-size","31");letter.setAttribute("font-weight","700");letter.setAttribute("fill","#000");
  letter.textContent=p.letter;

  const title=make("text",g);
  
  
  title.setAttribute("x",left+frameW/2);
  title.setAttribute("y",[61.5,594,1340][p.r]);
  title.setAttribute("font-size","34");title.setAttribute("text-anchor","middle");title.setAttribute("fill","#1a1a1a");
  title.textContent=p.title;

  const map=make("g",g);
  
  
  map.setAttribute("clip-path","url(#clip"+pi+")");

  p.fills.forEach(function(f){
    const shape=rounded(f[1],ox,oy);
    if(f[2]==="rim"){
      const rims=[["p",10],["o",6],["r",3]];
      rims.forEach(function(rim){
        const h=make("path",map);
        
        
        h.setAttribute("d",pathFrom(shape,sx,sy,true));
        h.setAttribute("fill",palette[rim[0]]);
        h.setAttribute("stroke",palette[rim[0]]);
        h.setAttribute("stroke-width",rim[1]);
        h.setAttribute("stroke-linejoin","round");
      });
      const core=make("path",map);
      
      
      core.setAttribute("d",pathFrom(shape,sx,sy,true));
      core.setAttribute("fill",palette.d);
      return;
    }
    const s=make("path",map);
    
    
    s.setAttribute("d",pathFrom(shape,sx,sy,true));
    s.setAttribute("fill",palette[f[0]]);
    s.setAttribute("stroke",palette[f[0]]);
    s.setAttribute("stroke-width","1");
    s.setAttribute("stroke-linejoin","round");
  });

  landParts.forEach(function(part){
    const l=make("path",map);
    
    
    l.setAttribute("d",pathFrom(part,lsx,lsy,true));
    l.setAttribute("fill","#4D4D4D");
    l.setAttribute("stroke","#4D4D4D");
    l.setAttribute("stroke-width","1.2");
    l.setAttribute("stroke-linejoin","round");
  });
  inletParts.forEach(function(part){
    const w=make("path",map);
    
    
    w.setAttribute("d",pathFrom(part,lsx,lsy,false));
    w.setAttribute("fill","none");
    w.setAttribute("stroke","#fff");
    w.setAttribute("stroke-width","2");
  });
  for(let i=0;i<landDots.length;i+=2){
    const dot=make("rect",map);
    
    
    dot.setAttribute("x",lsx(landDots[i])-1);dot.setAttribute("y",lsy(landDots[i+1])-1);
    dot.setAttribute("width","2");dot.setAttribute("height","2");dot.setAttribute("fill","#4D4D4D");
  }

  p.edges.forEach(function(edge){
    const r=make("path",map);
    
    
    r.setAttribute("d",smoothLine(edge,sx,sy));
    r.setAttribute("fill","none");
    r.setAttribute("stroke","#FA1E2E");
    r.setAttribute("stroke-width","1.9");
  });

  const frame=make("rect",g);
  
  
  frame.setAttribute("x",left);frame.setAttribute("y",top);frame.setAttribute("width",frameW);frame.setAttribute("height",frameH);
  frame.setAttribute("fill","none");frame.setAttribute("stroke","#2a2a2a");frame.setAttribute("stroke-width","1.8");

  lonTicks.forEach(function(lon,i){
    const x=left+lonToPlane(lon)*unit, y=top+frameH;
    const tick=make("line",g);
    
    
    tick.setAttribute("x1",x);tick.setAttribute("x2",x);tick.setAttribute("y1",y);tick.setAttribute("y2",y+17);
    tick.setAttribute("stroke","#2a2a2a");tick.setAttribute("stroke-width","1.6");
    const t=make("text",g);
    
    
    t.setAttribute("x",x);t.setAttribute("y",y+55.5);
    t.setAttribute("font-size","25.5");t.setAttribute("text-anchor","middle");t.setAttribute("fill","#222");
    t.textContent=lonTickLabels[i];
  });
});

/* sequential colour bar */
const seqBar=make("g",fig);


const seqFill=["low","mid","high"];
seqLevels.slice(0,-1).forEach(function(v,i){
  const r=make("rect",seqBar);
  
  
  r.setAttribute("x",seqScale(v));r.setAttribute("y",1120.7);
  r.setAttribute("width",seqScale(seqLevels[i+1])-seqScale(v));r.setAttribute("height",31);
  r.setAttribute("fill",palette[seqFill[i]]);
});
const seqArrow=make("polygon",seqBar);


seqArrow.setAttribute("points",[seqScale(15.5),1120.7,seqScale(seqOverflow),1136.2,seqScale(15.5),1151.7].join(" "));
seqArrow.setAttribute("fill","#C81E10");
seqLevels.forEach(function(v,i){
  const t=make("text",seqBar);
  
  
  t.setAttribute("x",seqScale(v));t.setAttribute("y",1178);
  t.setAttribute("font-size","22.5");t.setAttribute("text-anchor","middle");t.setAttribute("fill","#222");
  t.textContent=seqLabels[i];
});

/* diverging colour bar */
const divBar=make("g",fig);


const divFill=["s","m","b",null,"p","o","r"];
divLevels.slice(0,-1).forEach(function(v,i){
  if(!divFill[i])return;
  const r=make("rect",divBar);
  
  
  r.setAttribute("x",divScale(i));r.setAttribute("y",1865);
  r.setAttribute("width",divScale(i+1)-divScale(i));r.setAttribute("height",31);
  r.setAttribute("fill",palette[divFill[i]]);
});
const divLow=make("polygon",divBar);


divLow.setAttribute("points",[divScale(0),1865,divScale(-0.945),1881,divScale(0),1896].join(" "));
divLow.setAttribute("fill",palette.n);
const divHigh=make("polygon",divBar);


divHigh.setAttribute("points",[divScale(7),1865,divScale(7.945),1881,divScale(7),1896].join(" "));
divHigh.setAttribute("fill",palette.d);
divLevels.forEach(function(v,i){
  const t=make("text",divBar);
  
  
  t.setAttribute("x",divScale(i));t.setAttribute("y",1923);
  t.setAttribute("font-size","22.5");t.setAttribute("text-anchor","middle");t.setAttribute("fill","#222");
  t.textContent=divLabels[i];
});
</script>
</body>
</html>
